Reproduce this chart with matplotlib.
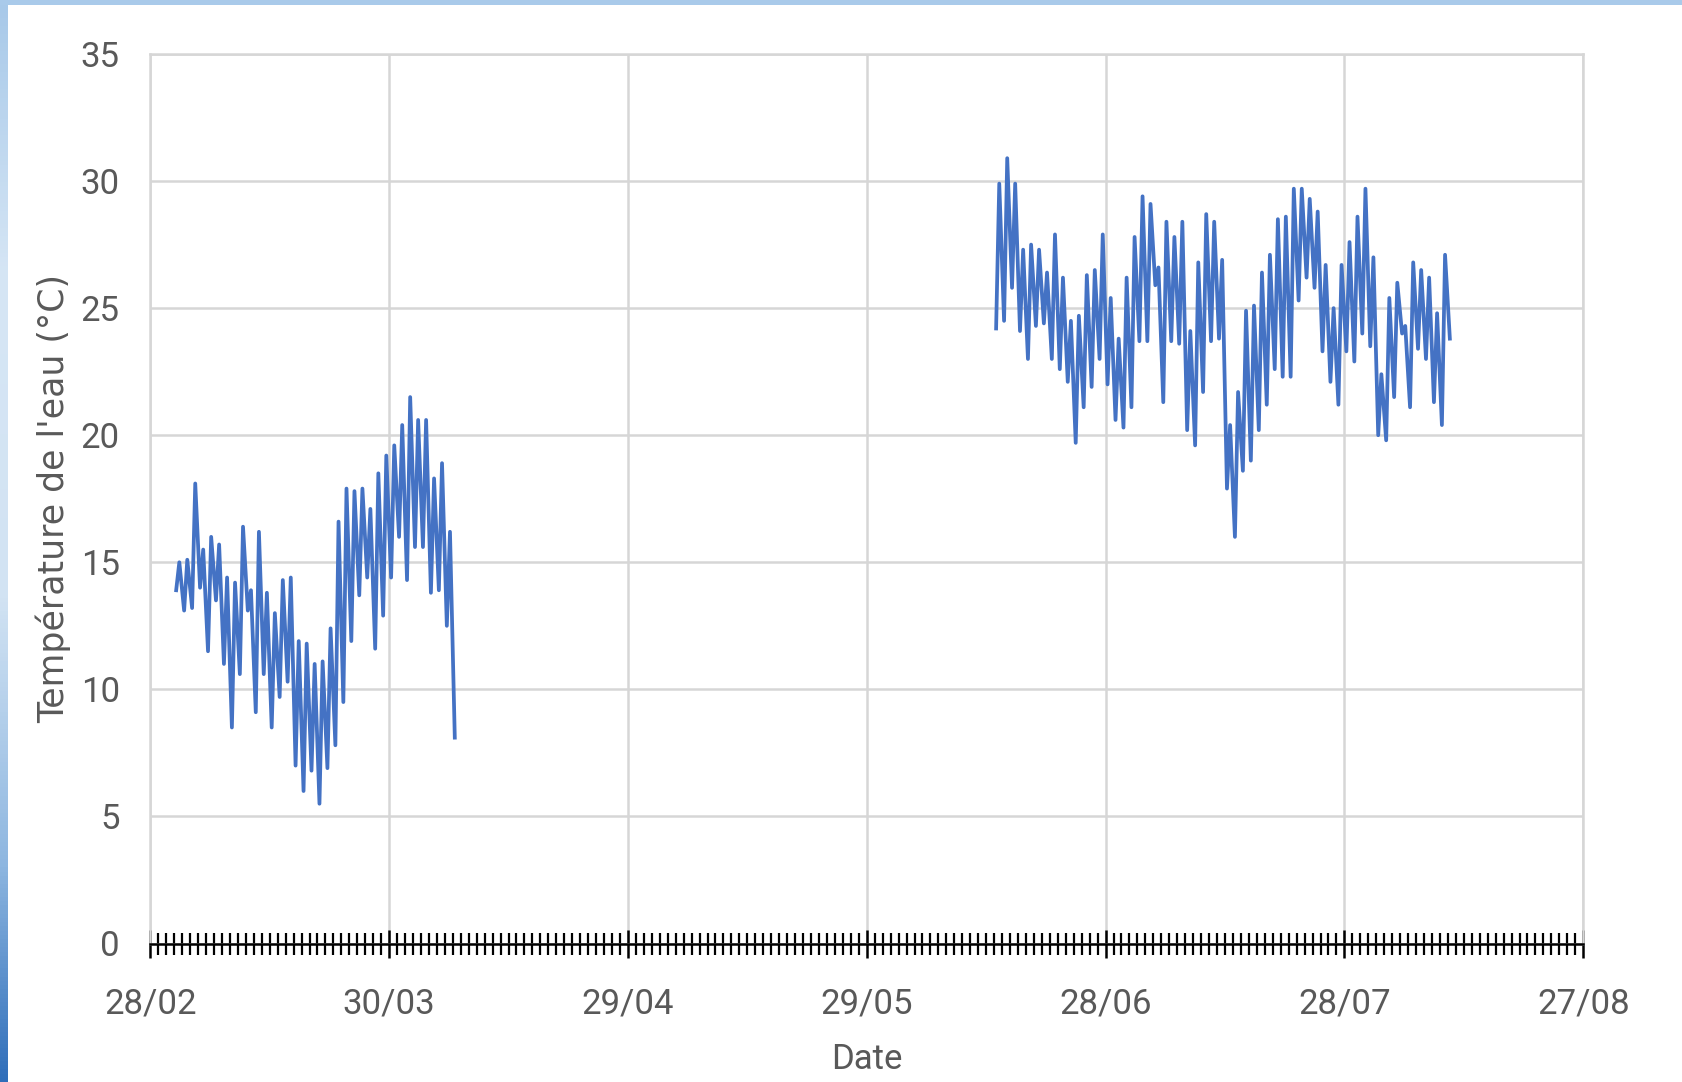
import numpy as np
import matplotlib
matplotlib.use("Agg")
import matplotlib.pyplot as plt
from matplotlib.ticker import MultipleLocator, FixedLocator, FixedFormatter
from matplotlib.patches import Rectangle
from matplotlib.colors import LinearSegmentedColormap

# Water temperature (°C): daily minimum (early morning) and maximum (afternoon)
# Day numbers are counted from 28/02.
spring_start_day = 3
spring_daily_min = [13.9, 13.1, 13.2, 14.0, 11.5, 13.5, 11.0, 8.5, 10.6, 13.1,
                    9.1, 10.6, 8.5, 9.7, 10.3, 7.0, 6.0, 6.8, 5.5, 6.9,
                    7.8, 9.5, 11.9, 13.7, 14.4, 11.6, 12.9, 14.4, 16.0, 14.3,
                    15.6, 15.6, 13.8, 13.9, 12.5, 8.1]
spring_daily_max = [15.0, 15.1, 18.1, 15.5, 16.0, 15.7, 14.4, 14.2, 16.4, 13.9,
                    16.2, 13.8, 13.0, 14.3, 14.4, 11.9, 11.8, 11.0, 11.1, 12.4,
                    16.6, 17.9, 17.8, 17.9, 17.1, 18.5, 19.2, 19.6, 20.4, 21.5,
                    20.6, 20.6, 18.3, 18.9, 16.2]

summer_start_day = 106
summer_daily_min = [24.2, 24.5, 25.8, 24.1, 23.0, 24.3, 24.4, 23.0, 22.6, 22.1,
                    19.7, 21.1, 21.9, 23.0, 22.0, 20.6, 20.3, 21.1, 23.7, 23.7,
                    25.9, 21.3, 23.7, 23.6, 20.2, 19.6, 21.7, 23.7, 23.8, 17.9,
                    16.0, 18.6, 19.0, 20.2, 21.2, 22.6, 22.3, 22.3, 25.3, 26.2,
                    25.8, 23.3, 22.1, 21.2, 23.3, 22.9, 24.0, 23.5, 20.0, 19.8,
                    21.5, 24.0, 21.1, 23.4, 23.0, 21.3, 20.4, 23.8]
summer_daily_max = [29.9, 30.9, 29.9, 27.3, 27.5, 27.3, 26.4, 27.9, 26.2, 24.5,
                    24.7, 26.3, 26.5, 27.9, 25.4, 23.8, 26.2, 27.8, 29.4, 29.1,
                    26.6, 28.4, 27.8, 28.4, 24.1, 26.8, 28.7, 28.4, 26.9, 20.4,
                    21.7, 24.9, 25.1, 26.4, 27.1, 28.5, 28.6, 29.7, 29.7, 29.3,
                    28.8, 26.7, 25.0, 26.7, 27.6, 28.6, 29.7, 27.0, 22.4, 25.4,
                    26.0, 24.3, 26.8, 26.5, 26.2, 24.8, 27.1]

tick_days = [0, 30, 60, 90, 120, 150, 180]
tick_labels = ["28/02", "30/03", "29/04", "29/05", "28/06", "28/07", "27/08"]
y_ticks = [0, 5, 10, 15, 20, 25, 30, 35]

MIN_TIME = 6 / 24     # hour of the daily minimum
MAX_TIME = 15.5 / 24  # hour of the daily maximum


def daily_cycle(start_day, mins, maxs):
    t, v = [], []
    for i, lo in enumerate(mins):
        t.append(start_day + i + MIN_TIME)
        v.append(lo)
        if i < len(maxs):
            t.append(start_day + i + MAX_TIME)
            v.append(maxs[i])
    return np.array(t), np.array(v)


W, H = 1683, 1082
fig = plt.figure(figsize=(W / 100, H / 100), dpi=100)
fig.patch.set_facecolor("white")

# slide frame: light band on top, blue gradient strip on the left
fig.add_artist(Rectangle((0, 1 - 5 / H), 1, 5 / H, transform=fig.transFigure,
                         facecolor="#A9CAEA", edgecolor="none", zorder=0))
strip = fig.add_axes([0, 0, 8 / W, 1 - 5 / H])
strip_cmap = LinearSegmentedColormap.from_list(
    "frame", [(0.0, "#A8C9E9"), (0.25, "#D6E6F5"), (0.55, "#D2E3F3"),
              (0.8, "#8DB6E0"), (1.0, "#2F6EBA")])
strip.imshow(np.linspace(0, 1, 256).reshape(-1, 1), aspect="auto",
             cmap=strip_cmap, extent=[0, 1, 0, 1])
strip.set_axis_off()

ax = fig.add_axes([150.3 / W, 138.5 / H, (1583.2 - 150.3) / W, (943.5 - 54) / H])

line_color = "#4472C4"
for start, mins, maxs in [(spring_start_day, spring_daily_min, spring_daily_max),
                          (summer_start_day, summer_daily_min, summer_daily_max)]:
    t, v = daily_cycle(start, mins, maxs)
    ax.plot(t, v, color=line_color, lw=2.7, solid_joinstyle="round", zorder=3)

ax.set_xlim(tick_days[0], tick_days[-1])
ax.set_ylim(y_ticks[0], y_ticks[-1])

grid_color = "#D6D6D6"
ax.xaxis.set_major_locator(FixedLocator(tick_days))
ax.xaxis.set_major_formatter(FixedFormatter(tick_labels))
ax.xaxis.set_minor_locator(MultipleLocator(1))
ax.set_yticks(y_ticks)
ax.grid(True, which="major", color=grid_color, lw=1.8, zorder=0)

for side in ["left", "top", "right"]:
    ax.spines[side].set_color(grid_color)
    ax.spines[side].set_linewidth(1.8)
ax.spines["bottom"].set_color("black")
ax.spines["bottom"].set_linewidth(1.8)
ax.spines["bottom"].set_zorder(4)

tick_font = ["Roboto", "DejaVu Sans"]
text_color = "#595959"
ax.tick_params(axis="x", which="major", direction="inout", length=20, width=1.8,
               color="black", pad=22, labelsize=25, labelcolor=text_color)
ax.tick_params(axis="x", which="minor", direction="inout", length=16, width=1.6,
               color="black")
ax.tick_params(axis="y", which="major", length=0, pad=22, labelsize=25,
               labelcolor=text_color)
for lab in ax.get_xticklabels() + ax.get_yticklabels():
    lab.set_family(tick_font)

ax.set_xlabel("Date", family=tick_font, fontsize=25, color=text_color, labelpad=16)
ax.set_ylabel("Température de l'eau (°C)", family="DejaVu Sans", fontsize=25,
              color=text_color)
ax.yaxis.set_label_coords(-0.055, 0.5)

fig.savefig("out.png", dpi=100, facecolor="white")
